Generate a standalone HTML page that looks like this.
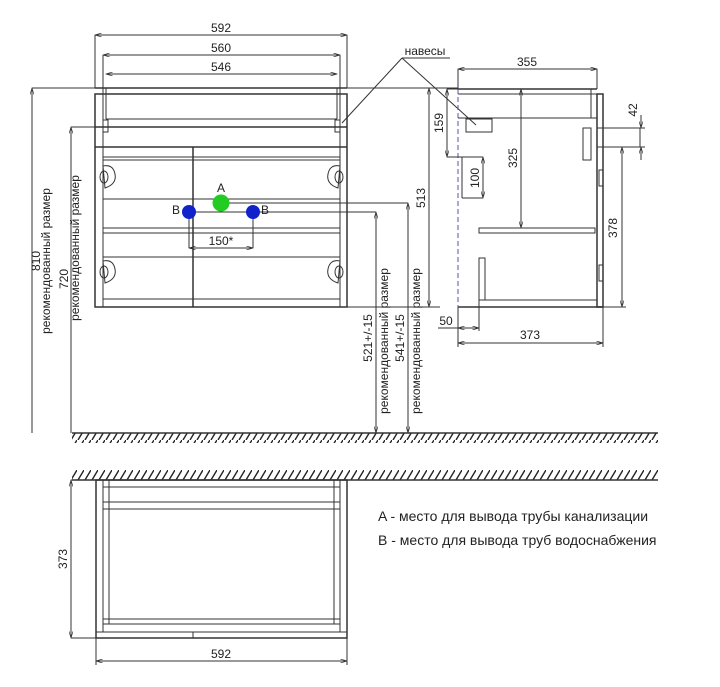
<!DOCTYPE html>
<html><head><meta charset="utf-8"><style>
html,body{margin:0;padding:0;background:#fff}
svg{display:block}
text{font-family:"Liberation Sans",sans-serif;fill:#222}
</style></head><body>
<svg width="720" height="687" viewBox="0 0 720 687" xmlns="http://www.w3.org/2000/svg">
<defs>
<marker id="a" viewBox="0 0 10 6" refX="10" refY="3" markerWidth="8" markerHeight="4" orient="auto-start-reverse"><path d="M0,0L10,3L0,6" fill="none" stroke="#333" stroke-width="1"/></marker>
<pattern id="h" width="7" height="10" patternUnits="userSpaceOnUse"><line x1="1" y1="10" x2="7" y2="0" stroke="#222" stroke-width="1.4"/></pattern>
</defs>
<g stroke="#333" stroke-width="1" fill="none">
<rect x="72" y="433" width="586" height="10" fill="url(#h)" stroke="none"/>
<line x1="72" y1="433" x2="658" y2="433" stroke-width="1.5"/>
<rect x="72" y="470" width="586" height="10" fill="url(#h)" stroke="none"/>
<line x1="72" y1="480" x2="658" y2="480" stroke-width="1.5"/>

<line x1="95" y1="88" x2="347" y2="88" stroke-width="1.5"/>
<rect x="95" y="94" width="252" height="213" stroke-width="1.5"/>
<line x1="95" y1="127" x2="347" y2="127" stroke-width="1.5"/>
<line x1="95" y1="147" x2="347" y2="147" stroke-width="1.5"/>
<line x1="103" y1="88" x2="103" y2="307"/><line x1="340" y1="88" x2="340" y2="307"/>
<line x1="106" y1="88" x2="106" y2="119"/><line x1="337" y1="88" x2="337" y2="119"/>
<line x1="106" y1="119" x2="337" y2="119"/>
<rect x="103" y="120" width="5" height="12"/><rect x="335" y="120" width="5" height="12"/>
<line x1="193" y1="147" x2="193" y2="307" stroke-width="1.5"/>
<line x1="103" y1="157" x2="340" y2="157"/><line x1="103" y1="160" x2="340" y2="160"/>
<line x1="103" y1="199" x2="340" y2="199"/>
<line x1="103" y1="228" x2="340" y2="228"/><line x1="103" y1="233" x2="340" y2="233"/>
<line x1="103" y1="257" x2="340" y2="257"/>
<line x1="103" y1="299" x2="340" y2="299"/>
<g>
<path d="M103,166 q10,-2 12,8 q2,10 -10,14 z"/><path d="M340,166 q-10,-2 -12,8 q-2,10 10,14 z"/>
<path d="M103,261 q10,-2 12,8 q2,10 -10,14 z"/><path d="M340,261 q-10,-2 -12,8 q-2,10 10,14 z"/>
<ellipse cx="104" cy="177" rx="4" ry="6"/><ellipse cx="339" cy="177" rx="4" ry="6"/>
<ellipse cx="104" cy="272" rx="4" ry="6"/><ellipse cx="339" cy="272" rx="4" ry="6"/>
</g>
<line x1="95" y1="35" x2="95" y2="88"/><line x1="347" y1="35" x2="347" y2="88"/>
<line x1="95" y1="35" x2="347" y2="35" marker-start="url(#a)" marker-end="url(#a)"/>
<line x1="103" y1="55" x2="103" y2="88"/><line x1="340" y1="55" x2="340" y2="88"/>
<line x1="103" y1="55" x2="340" y2="55" marker-start="url(#a)" marker-end="url(#a)"/>
<line x1="106" y1="74" x2="337" y2="74" marker-start="url(#a)" marker-end="url(#a)"/>
<line x1="32" y1="88" x2="95" y2="88"/>
<line x1="32" y1="88" x2="32" y2="433" marker-start="url(#a)"/>
<line x1="71" y1="127" x2="100" y2="127"/>
<line x1="71" y1="127" x2="71" y2="433" marker-start="url(#a)"/>
<line x1="189" y1="212" x2="189" y2="248"/><line x1="253" y1="212" x2="253" y2="248"/>
<line x1="189" y1="248" x2="253" y2="248" marker-start="url(#a)" marker-end="url(#a)"/>
<line x1="189" y1="212" x2="376" y2="212"/>
<line x1="221" y1="203" x2="408" y2="203"/>
<line x1="376" y1="212" x2="376" y2="433" marker-start="url(#a)" marker-end="url(#a)"/>
<line x1="408" y1="203" x2="408" y2="433" marker-start="url(#a)" marker-end="url(#a)"/>
<line x1="347" y1="88" x2="458" y2="88"/><line x1="347" y1="307" x2="440" y2="307"/>
<line x1="429" y1="88" x2="429" y2="307" marker-start="url(#a)" marker-end="url(#a)"/>
<line x1="402" y1="58" x2="450" y2="58"/>
<line x1="402" y1="58" x2="342" y2="123"/>
<line x1="402" y1="58" x2="476" y2="125"/>

<line x1="458" y1="89" x2="597" y2="89" stroke-width="1.5"/>
<line x1="458" y1="94" x2="597" y2="94"/>
<line x1="458" y1="307" x2="603" y2="307" stroke-width="1.5"/>
<line x1="479" y1="300" x2="597" y2="300"/>
<line x1="458" y1="89" x2="458" y2="307" stroke="#55a" stroke-dasharray="5,3"/>
<rect x="597" y="94" width="6" height="213" stroke-width="1.5"/>
<line x1="591" y1="89" x2="591" y2="118"/>
<line x1="458" y1="118" x2="597" y2="118"/>
<rect x="466" y="119" width="26" height="13"/>
<rect x="583" y="128" width="8" height="32"/>
<rect x="597" y="128" width="43" height="19"/>
<rect x="479" y="228" width="116" height="5"/>
<rect x="479" y="258" width="6" height="42"/>
<rect x="599" y="170" width="4" height="16"/><rect x="599" y="265" width="4" height="16"/>
<line x1="458" y1="69" x2="458" y2="89"/><line x1="597" y1="69" x2="597" y2="89"/>
<line x1="458" y1="69" x2="597" y2="69" marker-start="url(#a)" marker-end="url(#a)"/>
<line x1="458" y1="307" x2="458" y2="347"/><line x1="603" y1="307" x2="603" y2="347"/>
<line x1="458" y1="343" x2="603" y2="343" marker-start="url(#a)" marker-end="url(#a)"/>
<line x1="479" y1="300" x2="479" y2="331"/>
<line x1="438" y1="328" x2="479" y2="328"/>
<line x1="458" y1="328" x2="479" y2="328" marker-start="url(#a)" marker-end="url(#a)"/>
<line x1="521" y1="89" x2="521" y2="228" marker-start="url(#a)" marker-end="url(#a)"/>
<line x1="447" y1="89" x2="458" y2="89"/>
<line x1="447" y1="89" x2="447" y2="157" marker-start="url(#a)" marker-end="url(#a)"/>
<line x1="447" y1="157" x2="483" y2="157"/><line x1="462" y1="198" x2="483" y2="198"/>
<line x1="462" y1="157" x2="462" y2="198"/>
<line x1="483" y1="157" x2="483" y2="198" marker-start="url(#a)" marker-end="url(#a)"/>
<line x1="603" y1="147" x2="626" y2="147"/><line x1="603" y1="307" x2="626" y2="307"/>
<line x1="622" y1="147" x2="622" y2="307" marker-start="url(#a)" marker-end="url(#a)"/>
<line x1="640" y1="128" x2="645" y2="128"/><line x1="640" y1="147" x2="645" y2="147"/>
<line x1="641" y1="115" x2="641" y2="128" marker-end="url(#a)"/>
<line x1="641" y1="160" x2="641" y2="147" marker-end="url(#a)"/>

<rect x="96" y="480" width="251" height="158" stroke-width="1.5"/>
<line x1="103" y1="480" x2="103" y2="632"/><line x1="340" y1="480" x2="340" y2="632"/>
<line x1="109" y1="480" x2="109" y2="624"/><line x1="334" y1="480" x2="334" y2="624"/>
<line x1="103" y1="487" x2="340" y2="487"/>
<line x1="103" y1="502" x2="340" y2="502"/><line x1="103" y1="509" x2="340" y2="509"/>
<line x1="103" y1="619" x2="340" y2="619"/><line x1="103" y1="624" x2="340" y2="624"/>
<line x1="96" y1="632" x2="347" y2="632"/>
<line x1="193" y1="632" x2="193" y2="638"/>
<line x1="71" y1="480" x2="96" y2="480"/><line x1="71" y1="638" x2="96" y2="638"/>
<line x1="71" y1="480" x2="71" y2="638" marker-start="url(#a)" marker-end="url(#a)"/>
<line x1="96" y1="638" x2="96" y2="665"/><line x1="347" y1="638" x2="347" y2="665"/>
<line x1="96" y1="661" x2="347" y2="661" marker-start="url(#a)" marker-end="url(#a)"/>
</g>
<circle cx="221" cy="203" r="8.5" fill="#2c2"/>
<circle cx="189" cy="212" r="7" fill="#12c"/>
<circle cx="253" cy="212" r="7" fill="#12c"/>
<g font-size="12" text-anchor="middle">
<text x="221" y="32">592</text>
<text x="221" y="52">560</text>
<text x="221" y="71">546</text>
<text x="221" y="192">A</text>
<text x="176" y="214">B</text>
<text x="265" y="214">B</text>
<text x="221" y="245">150*</text>
<text x="425" y="55">навесы</text>
<text x="527" y="66">355</text>
<text x="530" y="339">373</text>
<text x="446" y="325">50</text>
<text x="221" y="658">592</text>
<text transform="translate(40,261) rotate(-90)">810</text>
<text transform="translate(50,261) rotate(-90)">рекомендованный размер</text>
<text transform="translate(68,279) rotate(-90)">720</text>
<text transform="translate(79,248) rotate(-90)">рекомендованный размер</text>
<text transform="translate(372,338) rotate(-90)">521+/-15</text>
<text transform="translate(388,341) rotate(-90)">рекомендованный размер</text>
<text transform="translate(404,338) rotate(-90)">541+/-15</text>
<text transform="translate(420,341) rotate(-90)">рекомендованный размер</text>
<text transform="translate(425,198) rotate(-90)">513</text>
<text transform="translate(443,123) rotate(-90)">159</text>
<text transform="translate(479,178) rotate(-90)">100</text>
<text transform="translate(517,158) rotate(-90)">325</text>
<text transform="translate(617,228) rotate(-90)">378</text>
<text transform="translate(637,110) rotate(-90)">42</text>
<text transform="translate(67,559) rotate(-90)">373</text>
</g>
<g font-size="14">
<text x="378" y="521">A - место для вывода трубы канализации</text>
<text x="378" y="545">B - место для вывода труб водоснабжения</text>
</g>
</svg>
</body></html>
